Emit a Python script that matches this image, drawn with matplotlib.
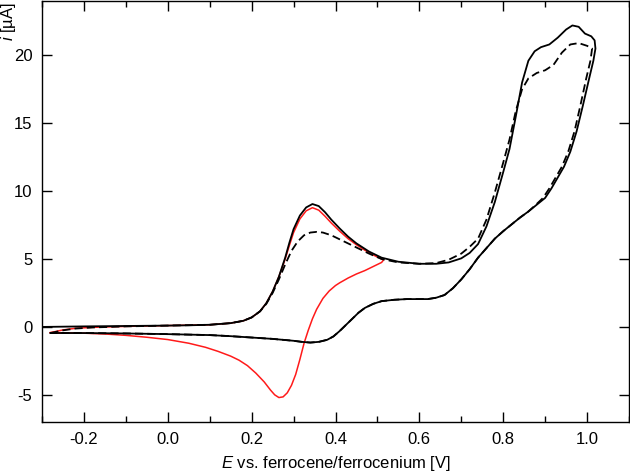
import matplotlib
matplotlib.use("Agg")
import matplotlib.pyplot as plt
from matplotlib.ticker import MultipleLocator

# ---- data (E in V, i in uA) ----
solid_E = [-0.30, -0.25, -0.20, -0.10, 0.00, 0.05, 0.10, 0.15, 0.18, 0.20, 0.22, 0.235, 0.25,
           0.265, 0.28, 0.29, 0.30, 0.315, 0.33, 0.345, 0.36, 0.375, 0.39, 0.41, 0.43, 0.45,
           0.48, 0.51, 0.55, 0.60, 0.64, 0.67, 0.70, 0.72, 0.74, 0.76, 0.78, 0.80, 0.815,
           0.83, 0.845, 0.86, 0.875, 0.89, 0.91, 0.93, 0.95, 0.965, 0.98, 0.995, 1.01, 1.018,
           1.02,
           1.015, 1.005, 0.99, 0.975, 0.96, 0.945, 0.93, 0.915, 0.90, 0.88, 0.86, 0.84, 0.82,
           0.80, 0.78, 0.76, 0.74, 0.72, 0.70, 0.68, 0.66, 0.64, 0.62, 0.60, 0.57, 0.54, 0.51,
           0.49, 0.47, 0.455, 0.44, 0.425, 0.41, 0.395, 0.38, 0.36, 0.34, 0.32, 0.30, 0.25,
           0.20, 0.15, 0.10, 0.00, -0.10, -0.20, -0.28]
solid_i = [0.00, 0.02, 0.04, 0.07, 0.10, 0.12, 0.16, 0.28, 0.45, 0.70, 1.15, 1.75, 2.6,
           3.7, 5.1, 6.2, 7.2, 8.2, 8.8, 9.05, 8.9, 8.45, 7.9, 7.25, 6.65, 6.15,
           5.55, 5.1, 4.8, 4.65, 4.65, 4.75, 5.05, 5.45, 6.1, 7.4, 9.2, 11.4, 13.1,
           15.5, 18.0, 19.6, 20.3, 20.6, 20.8, 21.3, 21.9, 22.2, 22.1, 21.6, 21.4, 21.1,
           20.5,
           19.6, 18.3, 16.3, 14.4, 12.9, 11.8, 11.0, 10.2, 9.5, 9.0, 8.5, 8.05, 7.55,
           7.05, 6.5, 5.8, 5.1, 4.25, 3.5, 2.85, 2.35, 2.15, 2.05, 2.05, 2.05, 2.0, 1.9,
           1.7, 1.4, 1.05, 0.6, 0.15, -0.3, -0.7, -0.95, -1.1, -1.15, -1.1, -1.02, -0.88,
           -0.78, -0.68, -0.6, -0.53, -0.48, -0.45, -0.45]

dashed_E = [-0.28, -0.25, -0.22, -0.18, -0.10, 0.00, 0.10, 0.15, 0.18, 0.20, 0.22, 0.235,
            0.25, 0.265, 0.28, 0.295, 0.31, 0.325, 0.34, 0.355, 0.37, 0.39, 0.41, 0.43, 0.45,
            0.48, 0.51, 0.55, 0.60, 0.64, 0.67, 0.70, 0.72, 0.74, 0.76, 0.78, 0.80, 0.815,
            0.83, 0.845, 0.86, 0.88, 0.90, 0.92, 0.94, 0.96, 0.98, 1.00, 1.012,
            1.008, 0.998, 0.984, 0.97, 0.955, 0.94, 0.925, 0.91, 0.895, 0.878, 0.86, 0.84,
            0.82, 0.80, 0.78, 0.76, 0.74, 0.72, 0.70, 0.68, 0.66, 0.64, 0.62, 0.60, 0.57,
            0.54, 0.51, 0.49, 0.47, 0.455, 0.44, 0.425, 0.41, 0.395, 0.38, 0.36, 0.34, 0.32,
            0.30, 0.25, 0.20, 0.15, 0.10, 0.00, -0.10, -0.20, -0.28]
dashed_i = [-0.45, -0.25, -0.12, -0.04, 0.04, 0.10, 0.16, 0.28, 0.45, 0.70, 1.15, 1.7,
            2.5, 3.5, 4.6, 5.6, 6.3, 6.75, 6.95, 7.0, 6.95, 6.75, 6.45, 6.15, 5.85,
            5.4, 5.0, 4.75, 4.65, 4.7, 4.95, 5.4, 5.9, 6.5, 7.9, 9.9, 12.1, 13.8,
            15.9, 17.5, 18.3, 18.7, 18.9, 19.3, 20.2, 20.8, 20.9, 20.7, 20.5,
            19.6, 18.3, 16.3, 14.4, 12.9, 11.8, 11.0, 10.2, 9.5, 9.0, 8.5, 8.05,
            7.55, 7.05, 6.5, 5.8, 5.1, 4.25, 3.5, 2.85, 2.35, 2.15, 2.05, 2.05, 2.05,
            2.0, 1.9, 1.7, 1.4, 1.05, 0.6, 0.15, -0.3, -0.7, -0.95, -1.1, -1.15, -1.1,
            -1.02, -0.88, -0.78, -0.68, -0.6, -0.53, -0.48, -0.45, -0.45]

red_E = [-0.28, -0.25, -0.22, -0.18, -0.10, 0.00, 0.10, 0.15, 0.18, 0.20, 0.22, 0.235,
         0.25, 0.265, 0.28, 0.29, 0.30, 0.315, 0.33, 0.345, 0.36, 0.375, 0.39, 0.41, 0.43,
         0.45, 0.47, 0.49, 0.51, 0.515,
         0.51, 0.49, 0.47, 0.45, 0.43, 0.41, 0.40, 0.385, 0.37, 0.355, 0.345, 0.335, 0.325,
         0.315, 0.305, 0.295, 0.285, 0.275, 0.265, 0.255, 0.245, 0.23, 0.21, 0.19, 0.17,
         0.15, 0.12, 0.09, 0.05, 0.00, -0.05, -0.10, -0.15, -0.20, -0.28]
red_i = [-0.42, -0.22, -0.10, -0.03, 0.04, 0.10, 0.16, 0.28, 0.45, 0.70, 1.15, 1.75,
         2.6, 3.7, 5.0, 6.0, 6.95, 7.95, 8.55, 8.78, 8.6, 8.15, 7.65, 7.05, 6.5,
         6.05, 5.65, 5.3, 5.0, 4.95,
         4.75, 4.45, 4.15, 3.9, 3.6, 3.25, 3.05, 2.65, 2.1, 1.3, 0.6, -0.25, -1.2,
         -2.4, -3.5, -4.3, -4.85, -5.15, -5.2, -5.0, -4.65, -4.05, -3.4, -2.85, -2.45,
         -2.15, -1.8, -1.5, -1.2, -0.93, -0.76, -0.62, -0.52, -0.46, -0.42]

x_ticks = [-0.2, 0.0, 0.2, 0.4, 0.6, 0.8, 1.0]
y_ticks = [-5, 0, 5, 10, 15, 20]

plt.rcParams['font.family'] = ['Liberation Sans', 'DejaVu Sans']
plt.rcParams['mathtext.fontset'] = 'custom'
plt.rcParams['mathtext.it'] = 'Liberation Sans:italic'
plt.rcParams['mathtext.rm'] = 'Liberation Sans'
plt.rcParams['axes.unicode_minus'] = False

fig = plt.figure(figsize=(6.3, 4.73), dpi=100)
ax = fig.add_axes([42 / 630, 51 / 473, 587 / 630, 421 / 473])

ax.plot(red_E, red_i, color='#ff1a1a', lw=1.1, zorder=2)
ax.plot(solid_E, solid_i, color='black', lw=1.3, zorder=3)
ax.plot(dashed_E, dashed_i, color='black', lw=1.3, dashes=(4.5, 2.3), zorder=3)

ax.set_xlim(-0.3, 1.1)
ax.set_ylim(-7, 24)
ax.set_xticks(x_ticks)
ax.set_xticklabels([f"{v:.1f}" for v in x_ticks])
ax.set_yticks(y_ticks)
ax.set_yticklabels([str(v) for v in y_ticks])
ax.xaxis.set_minor_locator(MultipleLocator(0.1))

ax.tick_params(which='both', direction='in', top=True, right=True,
               labelsize=12, width=1, color='black', pad=7)
ax.tick_params(which='major', length=7.5)
ax.tick_params(which='minor', length=4)
for s in ax.spines.values():
    s.set_linewidth(1.0)
    s.set_color('black')

ax.set_xlabel(r'$E$ vs. ferrocene/ferrocenium [V]', fontsize=12, labelpad=5)
fig.text(9 / 630, 1 - 2 / 473, r'$i$ [µA]', fontsize=12, rotation=90,
         ha='center', va='top')

fig.savefig('out.png', dpi=100)
